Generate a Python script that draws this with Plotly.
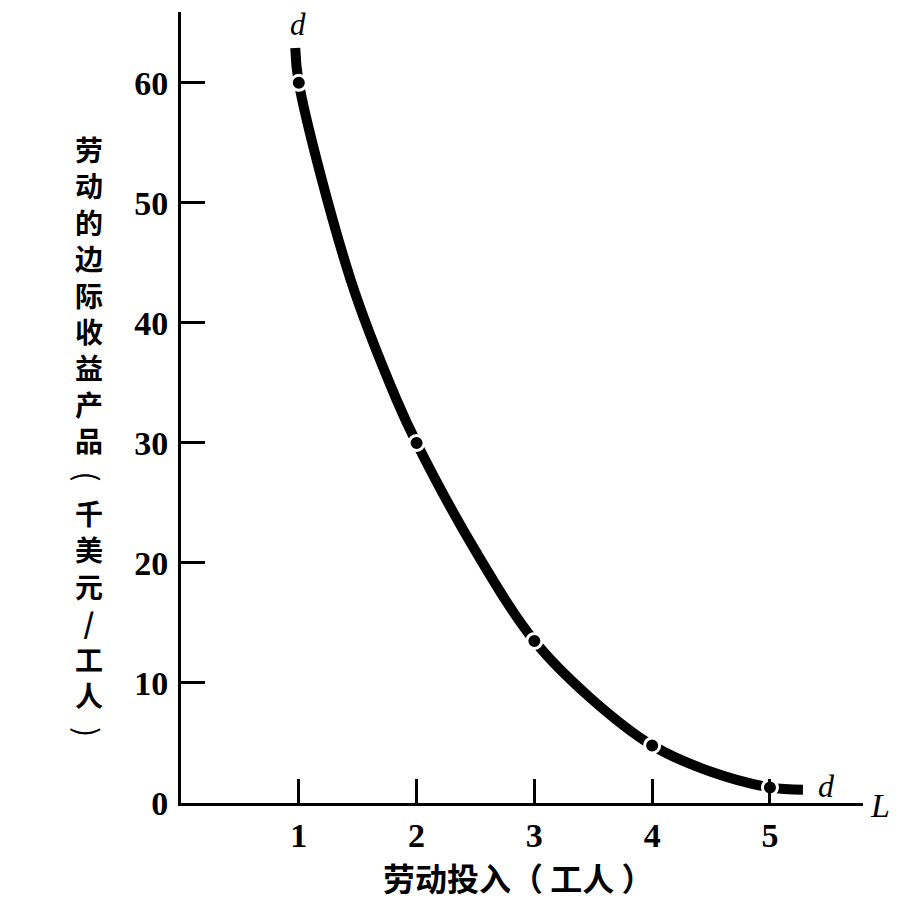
import plotly.graph_objects as go

# Curve (labour input vs. MRP of labour, thousand $ / worker)
curve_x = [0.97, 1.0, 1.44, 1.83, 2.0, 2.5, 3.0, 3.47, 4.0, 4.5, 5.0, 5.28]
curve_y = [62.9, 60.0, 43.6, 33.6, 30.0, 21.0, 13.5, 8.8, 4.8, 2.6, 1.3, 1.1]

# Marked points
point_x = [1, 2, 3, 4, 5]
point_y = [60, 30, 13.5, 4.8, 1.3]

x_ticks = [1, 2, 3, 4, 5]
y_ticks = [0, 10, 20, 30, 40, 50, 60]

y_title_part1 = ["劳", "动", "的", "边", "际", "收", "益", "产", "品"]
y_title_part2 = ["千", "美", "元", "/", "工", "人"]
y_paren_open, y_paren_close = "(", ")"   # drawn rotated 90° (vertical-text parentheses)
x_title = "劳动投入（ 工人 ）"

serif = "Liberation Serif, Times New Roman, serif"
cjk = "Noto Sans CJK SC, sans-serif"

fig = go.Figure()
fig.add_trace(go.Scatter(
    x=curve_x, y=curve_y, mode="lines",
    line=dict(color="black", width=10, shape="spline", smoothing=1.0),
    hoverinfo="skip", showlegend=False, cliponaxis=False))
fig.add_trace(go.Scatter(
    x=point_x, y=point_y, mode="markers",
    marker=dict(color="black", size=15, line=dict(color="white", width=3)),
    showlegend=False, cliponaxis=False))

W, H = 919, 906
PL, PT = 181, 12          # plot area top-left on the page
pw, ph = 682, 791
L, T = PL, PT
R, B = W - L - pw, H - T - ph

fig.update_layout(
    width=W, height=H,
    margin=dict(l=L, r=R, t=T, b=B, autoexpand=False),
    paper_bgcolor="white", plot_bgcolor="white",
    showlegend=False,
    xaxis=dict(range=[0, 5.79], tickvals=x_ticks, ticktext=[str(v) for v in x_ticks],
               ticks="inside", ticklen=24, tickwidth=3, tickcolor="black",
               showline=True, linewidth=3, linecolor="black",
               showgrid=False, zeroline=False, automargin=False,
               tickfont=dict(family=serif, size=34, color="black", weight="bold"),
               ticklabelstandoff=0),
    yaxis=dict(range=[0, 65.9], tickvals=y_ticks, ticktext=[str(v) for v in y_ticks],
               ticks="inside", ticklen=24, tickwidth=3, tickcolor="black",
               showline=True, linewidth=3, linecolor="black",
               showgrid=False, zeroline=False, automargin=False,
               tickfont=dict(family=serif, size=34, color="black", weight="bold"),
               ticklabelstandoff=3),
)


def px_x(p):
    return (p - L) / pw


def px_y(p):
    return (H - B - p) / ph


ROW0, PITCH, TX = 148, 36.5, 89
ann = []
ann.append(dict(text="<br>".join(y_title_part1), xref="paper", yref="paper",
                x=px_x(TX), y=px_y(ROW0 + 4 * PITCH), xanchor="center", yanchor="middle",
                showarrow=False, borderpad=0,
                font=dict(family=cjk, size=28, color="black", weight="bold")))
ann.append(dict(text=y_paren_open, xref="paper", yref="paper",
                x=px_x(TX), y=px_y(ROW0 + 9 * PITCH), xanchor="center", yanchor="middle",
                showarrow=False, textangle=90, borderpad=0,
                font=dict(family=cjk, size=30, color="black")))
ann.append(dict(text="<br>".join(y_title_part2), xref="paper", yref="paper",
                x=px_x(TX), y=px_y(ROW0 + 12.5 * PITCH), xanchor="center", yanchor="middle",
                showarrow=False, borderpad=0,
                font=dict(family=cjk, size=28, color="black", weight="bold")))
ann.append(dict(text=y_paren_close, xref="paper", yref="paper",
                x=px_x(TX), y=px_y(ROW0 + 16 * PITCH), xanchor="center", yanchor="middle",
                showarrow=False, textangle=90, borderpad=0,
                font=dict(family=cjk, size=30, color="black")))

ann += [
    dict(text=x_title, xref="paper", yref="paper",
         x=px_x(518), y=px_y(877), xanchor="center", yanchor="middle",
         showarrow=False, font=dict(family=cjk, size=32, color="black", weight="bold")),
    dict(text="<i>d</i>", xref="paper", yref="paper", x=px_x(298), y=px_y(24),
         showarrow=False, xanchor="center", yanchor="middle", borderpad=0,
         font=dict(family=serif, size=31, color="black")),
    dict(text="<i>d</i>", xref="paper", yref="paper", x=px_x(826), y=px_y(786),
         showarrow=False, xanchor="center", yanchor="middle",
         font=dict(family=serif, size=32, color="black")),
    dict(text="<i>L</i>", xref="paper", yref="paper", x=px_x(880), y=px_y(805),
         showarrow=False, xanchor="center", yanchor="middle",
         font=dict(family=serif, size=34, color="black")),
]
fig.update_layout(annotations=ann)

fig.write_html("out.html", config={"displayModeBar": False},
               post_script="document.body.style.margin='0';document.body.style.padding='0';")
